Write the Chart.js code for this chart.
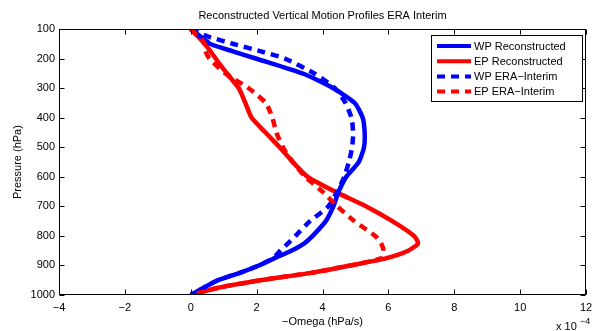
<!DOCTYPE html>
<html>
<head>
<meta charset="utf-8">
<script src="https://cdn.jsdelivr.net/npm/chart.js@4.4.0/dist/chart.umd.min.js"></script>
<style>
  html, body { margin: 0; padding: 0; background: #fff; }
</style>
</head>
<body>
<canvas id="chart" width="592" height="331"></canvas>
<script>
// pressure levels (hPa) shared by all four profiles
const pressure = [100, 125, 150, 175, 200, 250, 300, 350, 400, 450, 500, 550, 600, 650, 700, 750, 800, 825, 850, 875, 900, 925, 950, 975, 1000];

// -omega in units of 1e-4 hPa/s
const wpRecon = [0, 0.3, 0.6, 1.28, 2.0, 3.4, 4.33, 4.98, 5.22, 5.28, 5.26, 5.1, 4.72, 4.49, 4.33, 4.1, 3.7, 3.45, 3.05, 2.55, 2.07, 1.49, 0.82, 0.4, 0];
const epRecon = [0, 0.22, 0.43, 0.6, 0.76, 1.1, 1.46, 1.66, 1.85, 2.27, 2.7, 3.1, 3.55, 4.38, 5.33, 6.12, 6.78, 6.9, 6.6, 5.95, 4.85, 3.65, 2.12, 0.85, 0];
const wpEra = [0, 0.53, 1.3, 2.13, 2.87, 3.75, 4.38, 4.7, 4.88, 4.93, 4.9, 4.8, 4.66, 4.45, 4.18, 3.62, 3.18, 2.95, 2.72, 2.5, 2.07, 1.49, 0.82, 0.4, 0];
const epEra = [0, 0.22, 0.43, 0.45, 0.57, 1.05, 1.76, 2.28, 2.48, 2.6, 2.8, 3.1, 3.48, 4.0, 4.45, 4.97, 5.6, 5.78, 5.85, 5.8, 4.85, 3.65, 2.12, 0.85, 0];

const labels = ["WP Reconstructed", "EP Reconstructed", "WP ERA\u2212Interim", "EP ERA\u2212Interim"];
const titleText = "Reconstructed Vertical Motion Profiles ERA Interim";
const xTitle = "\u2212Omega (hPa/s)";
const yTitle = "Pressure (hPa)";

const BLUE = "#0000ff", RED = "#ff0000";
const DASH = [8, 6];
const FONT = "'Liberation Sans', Arial, Helvetica, sans-serif";

Chart.defaults.font.family = FONT;
Chart.defaults.color = "#000";

const pts = (vals) => vals.map((v, i) => ({ x: v, y: pressure[i] }));

const series = [
  { label: labels[0], data: pts(wpRecon), color: BLUE, dash: [], order: 3 },
  { label: labels[1], data: pts(epRecon), color: RED, dash: [], order: 4 },
  { label: labels[2], data: pts(wpEra), color: BLUE, dash: DASH, order: 2 },
  { label: labels[3], data: pts(epEra), color: RED, dash: DASH, order: 1 },
];

// matlab-style frame: box, inward ticks, legend, exponent note
const matlabFrame = {
  id: "matlabFrame",
  afterDatasetsDraw(chart) {
    const { ctx, chartArea: a, scales: { x, y } } = chart;
    ctx.save();
    ctx.strokeStyle = "#000";
    ctx.lineWidth = 1;
    ctx.setLineDash([]);
    const L = Math.round(a.left) + 0.5, R = Math.round(a.right) - 0.5;
    const T = Math.round(a.top) + 0.5, B = Math.round(a.bottom) - 0.5;
    ctx.strokeRect(L, T, R - L, B - T);

    ctx.beginPath();
    x.ticks.forEach((t) => {
      const px = Math.round(x.getPixelForValue(t.value)) + 0.5;
      ctx.moveTo(px, B); ctx.lineTo(px, B - 5);
      ctx.moveTo(px, T); ctx.lineTo(px, T + 5);
    });
    y.ticks.forEach((t) => {
      const py = Math.round(y.getPixelForValue(t.value)) + 0.5;
      ctx.moveTo(L, py); ctx.lineTo(L + 5, py);
      ctx.moveTo(R, py); ctx.lineTo(R - 5, py);
    });
    ctx.stroke();

    // legend box
    const bx = 431.5, by = 35.5, bw = 151, bh = 66;
    ctx.fillStyle = "#fff";
    ctx.fillRect(bx, by, bw, bh);
    ctx.strokeRect(bx, by, bw, bh);
    ctx.font = "11px " + FONT;
    ctx.textBaseline = "middle";
    ctx.textAlign = "left";
    chart.data.datasets.forEach((ds, i) => {
      const ry = 46 + i * 15.2;
      ctx.save();
      ctx.strokeStyle = ds.borderColor;
      ctx.lineWidth = 4;
      ctx.lineCap = "butt";
      ctx.setLineDash(ds.borderDash || []);
      ctx.beginPath();
      ctx.moveTo(437, ry); ctx.lineTo(471, ry);
      ctx.stroke();
      ctx.restore();
      ctx.fillStyle = "#000";
      ctx.fillText(ds.label, 474, ry + 0.5);
    });

    // x 10^-4 note
    ctx.textBaseline = "alphabetic";
    ctx.font = "11px " + FONT;
    ctx.fillText("x 10", 556, 330);
    ctx.font = "9px " + FONT;
    ctx.fillText("\u22124", 580, 324);
    ctx.restore();
  },
};

new Chart(document.getElementById("chart"), {
  type: "scatter",
  data: {
    datasets: series.map((s) => ({
      label: s.label,
      data: s.data,
      showLine: true,
      borderColor: s.color,
      backgroundColor: s.color,
      borderWidth: 4.5,
      borderDash: s.dash,
      borderCapStyle: "butt",
      borderJoinStyle: "round",
      pointRadius: 0,
      tension: 0.2,
      order: s.order,
    })),
  },
  options: {
    responsive: false,
    animation: false,
    devicePixelRatio: 1,
    layout: { padding: { top: 0, right: 6, bottom: 0, left: 0 } },
    plugins: {
      legend: { display: false },
      tooltip: { enabled: false },
      title: {
        display: true,
        text: titleText,
        fullSize: false,
        color: "#000",
        font: { size: 11, weight: "normal" },
        padding: { top: 9, bottom: 7 },
      },
    },
    scales: {
      x: {
        type: "linear",
        min: -4,
        max: 12,
        grid: { display: false, drawTicks: false, tickLength: 0 },
        border: { display: false },
        ticks: {
          stepSize: 2,
          padding: 6,
          color: "#000",
          font: { size: 11 },
          maxRotation: 0,
          callback: (v) => (v < 0 ? "\u2212" + Math.abs(v) : String(v)),
        },
        title: { display: true, text: xTitle, color: "#000", font: { size: 11 }, padding: { top: 0, bottom: 2.5 } },
        afterFit(s) { s.height = 36; s.paddingLeft = 0; s.paddingRight = 0; },
      },
      y: {
        type: "linear",
        min: 100,
        max: 1000,
        reverse: true,
        grid: { display: false, drawTicks: false, tickLength: 0 },
        border: { display: false },
        ticks: { stepSize: 100, padding: 4, color: "#000", font: { size: 11 }, callback: (v) => String(v) },
        title: { display: true, text: yTitle, color: "#000", font: { size: 11 }, padding: { top: 11.4, bottom: 0 } },
        afterFit(s) { s.width = 59; s.paddingTop = 0; s.paddingBottom = 0; },
      },
    },
  },
  plugins: [matlabFrame],
});
</script>
</body>
</html>
